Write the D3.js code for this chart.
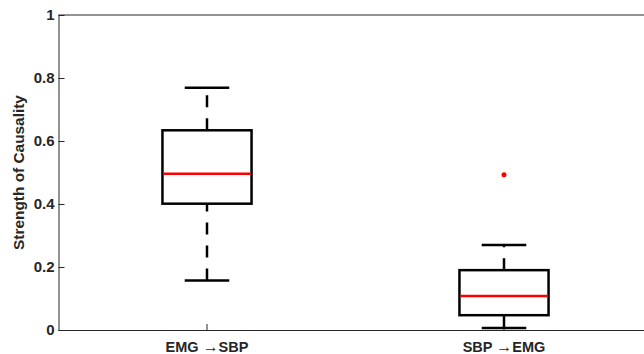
<!DOCTYPE html>
<html>
<head>
<meta charset="utf-8">
<script src="https://cdn.jsdelivr.net/npm/d3@7"></script>
<style>
  body { margin: 0; background: #fff; }
  svg { display: block; }
</style>
</head>
<body>
<script>
// box plot stats
const categories = ["EMG|SBP", "SBP|EMG"];
const lowerWhisker = [0.157, 0.006];
const q1 = [0.401, 0.047];
const median = [0.496, 0.108];
const q3 = [0.634, 0.190];
const upperWhisker = [0.769, 0.270];
const outliers = [[], [0.493]];
const yTicks = [0, 0.2, 0.4, 0.6, 0.8, 1];

const W = 644, H = 354;
const margin = { top: 15, bottom: 24, left: 58.5, right: -8.5 };
const width = W - margin.left - margin.right;
const height = H - margin.top - margin.bottom;
const axisColor = "#262626";

const svg = d3.select("body").append("svg")
    .attr("width", W)
    .attr("height", H);

const g = svg.append("g").attr("transform", `translate(${margin.left},${margin.top})`);

// scales
const xscale = d3.scaleBand().domain(categories).range([0, width]).padding(0);
const yscale = d3.scaleLinear().domain([0, 1]).range([height, 0]);

const boxW = xscale.bandwidth() * 0.3;
const capW = xscale.bandwidth() * 0.15;

// top border
g.append("line")
    .attr("x1", 0).attr("x2", width)
    .attr("y1", yscale(1)).attr("y2", yscale(1))
    .attr("stroke", axisColor).attr("stroke-width", 1);

// y axis
const yaxis = d3.axisLeft(yscale).tickValues(yTicks).tickSize(-6).tickPadding(4)
    .tickFormat(d => d3.format("~g")(d));
const gy = g.append("g").call(yaxis);
gy.select(".domain").attr("stroke", axisColor).attr("d", `M0.5,${height}V0`);
gy.selectAll(".tick line").attr("stroke", axisColor);
gy.selectAll("text")
    .attr("fill", axisColor)
    .style("font-family", "'Liberation Sans', Arial, sans-serif")
    .style("font-size", "15px")
    .style("font-weight", "bold");

// x axis
const xaxis = d3.axisBottom(xscale).tickSize(-6).tickPadding(12);
const gx = g.append("g").attr("transform", `translate(0,${height})`).call(xaxis);
gx.select(".domain").attr("stroke", axisColor).attr("d", `M0,0.5H${width}`);
gx.selectAll(".tick line").attr("stroke", axisColor);
gx.selectAll("text")
    .attr("fill", axisColor)
    .style("font-family", "'Liberation Sans', Arial, sans-serif")
    .style("font-size", "14.5px")
    .style("font-weight", "bold")
    .each(function (d) {
        const parts = d.split("|");
        const t = d3.select(this).text(null);
        t.append("tspan").text(parts[0] + " ");
        t.append("tspan").style("font-weight", "normal").style("font-size", "16px").text("\u2192");
        t.append("tspan").text(parts[1]);
    });

// y label
svg.append("text")
    .attr("transform", `translate(24,${margin.top + height / 2}) rotate(-90)`)
    .attr("text-anchor", "middle")
    .attr("fill", axisColor)
    .style("font-family", "'Liberation Sans', Arial, sans-serif")
    .style("font-size", "15.4px")
    .style("font-weight", "bold")
    .text("Strength of Causality");

// boxes
const stats = categories.map((c, i) => ({
    cat: c, lo: lowerWhisker[i], q1: q1[i], med: median[i], q3: q3[i], hi: upperWhisker[i], out: outliers[i]
}));

const box = g.selectAll(".box").data(stats).join("g").attr("class", "box")
    .attr("transform", d => `translate(${xscale(d.cat) + xscale.bandwidth() / 2},0)`);

// whiskers (dashed)
box.append("line")
    .attr("x1", 0).attr("x2", 0)
    .attr("y1", d => yscale(d.q3)).attr("y2", d => yscale(d.hi))
    .attr("stroke", "#000").attr("stroke-width", 2.5).attr("stroke-dasharray", "12,11");
box.append("line")
    .attr("x1", 0).attr("x2", 0)
    .attr("y1", d => yscale(d.lo)).attr("y2", d => yscale(d.q1))
    .attr("stroke", "#000").attr("stroke-width", 2.5).attr("stroke-dasharray", "12,11");

// caps
box.selectAll(".cap").data(d => [d.lo, d.hi]).join("line").attr("class", "cap")
    .attr("x1", -capW / 2).attr("x2", capW / 2)
    .attr("y1", v => yscale(v)).attr("y2", v => yscale(v))
    .attr("stroke", "#000").attr("stroke-width", 2.5);

// box
box.append("rect")
    .attr("x", -boxW / 2)
    .attr("width", boxW)
    .attr("y", d => yscale(d.q3))
    .attr("height", d => yscale(d.q1) - yscale(d.q3))
    .attr("fill", "none")
    .attr("stroke", "#000").attr("stroke-width", 2.5);

// median
box.append("line")
    .attr("x1", -boxW / 2 + 1).attr("x2", boxW / 2 - 1)
    .attr("y1", d => yscale(d.med)).attr("y2", d => yscale(d.med))
    .attr("stroke", "#ff0000").attr("stroke-width", 2.5);

// outliers
box.selectAll(".out").data(d => d.out).join("circle").attr("class", "out")
    .attr("cx", 0).attr("cy", v => yscale(v)).attr("r", 2.5)
    .attr("fill", "#ff0000");
</script>
</body>
</html>
